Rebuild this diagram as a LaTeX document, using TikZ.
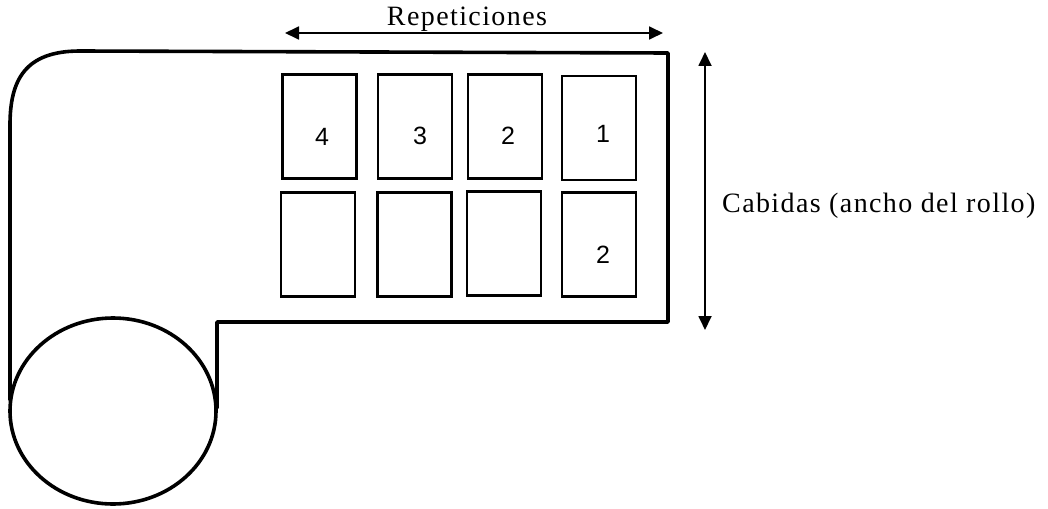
\documentclass[tikz,border=0pt]{standalone}
\usepackage{fontspec}
\setmainfont{Liberation Serif}[LetterSpace=5]
\newfontfamily\digitfont{Liberation Sans}
\usetikzlibrary{arrows.meta}
\begin{document}
\begin{tikzpicture}[x=1pt,y=-1pt,
  web/.style={line width=3.6pt,line join=round,line cap=round},
  label/.style={draw,line width=2.2pt,minimum width=74pt,minimum height=104pt,inner sep=0pt},
  num/.style={font=\digitfont\fontsize{25}{25}\selectfont},
  dim/.style={line width=1.8pt,{Triangle[length=14pt,width=13pt]}-{Triangle[length=14pt,width=13pt]}},
  txt/.style={font=\fontsize{28}{28}\selectfont}]
\useasboundingbox (0,0) rectangle (1048,508);
% web and roll
\draw[web] (217,408) -- (217,322) -- (668,322) -- (668,53) -- (80,51)
  .. controls (25,51) and (10,80) .. (10,125) -- (10,400);
\draw[web] (113,411) ellipse [x radius=103, y radius=93];
% labels on the web
\node[label] (t4) at (319.5,126.5) {};
\node[label] (t3) at (415,126.5) {};
\node[label] (t2) at (505,126.5) {};
\node[label] (t1) at (599,128) {};
\node[label] (b4) at (318,244.5) {};
\node[label] (b3) at (414.5,244.5) {};
\node[label] (b2) at (504,243.5) {};
\node[label] (b1) at (599,244.5) {};
\node[num] (n4) at (322,137) {4};
\node[num] (n3) at (420,136) {3};
\node[num] (n2) at (508,136) {2};
\node[num] (n1) at (603,134) {1};
\node[num] (m2) at (603,255) {2};
% dimension arrows
\coordinate (rl) at (285,33);
\coordinate (rr) at (663,33);
\draw[dim] (rl) -- (rr);
\node[txt] (rep) at (467,19) {Repeticiones};
\coordinate (ct) at (705,52);
\coordinate (cb) at (705,330);
\draw[dim] (ct) -- (cb);
\node[txt,anchor=west,inner sep=0pt] (cab) at (722,206) {Cabidas (ancho del rollo)};
\end{tikzpicture}
\end{document}
